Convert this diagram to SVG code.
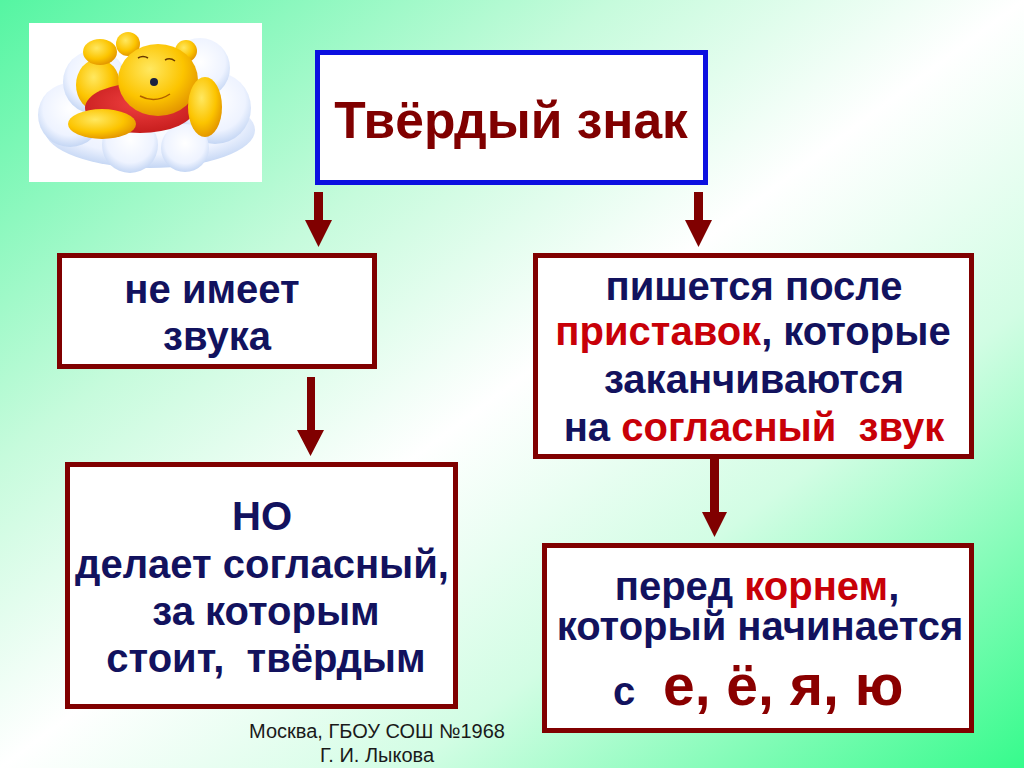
<svg xmlns="http://www.w3.org/2000/svg" width="1024" height="768" viewBox="0 0 1024 768">
<defs>
<linearGradient id="bg" x1="0" y1="0" x2="1" y2="1">
<stop offset="0" stop-color="#55f5a2"/>
<stop offset="0.3" stop-color="#c6fbdc"/>
<stop offset="0.5" stop-color="#ffffff"/>
<stop offset="0.7" stop-color="#d2fde4"/>
<stop offset="1" stop-color="#36fb8c"/>
</linearGradient>
<radialGradient id="cloud" cx="0.5" cy="0.4" r="0.6">
<stop offset="0" stop-color="#ffffff"/>
<stop offset="0.7" stop-color="#eef3ff"/>
<stop offset="1" stop-color="#c4d6f4"/>
</radialGradient>
<radialGradient id="fur" cx="0.4" cy="0.35" r="0.7">
<stop offset="0" stop-color="#ffe860"/>
<stop offset="0.6" stop-color="#fcc400"/>
<stop offset="1" stop-color="#e09000"/>
</radialGradient>
<radialGradient id="shirt" cx="0.5" cy="0.4" r="0.7">
<stop offset="0" stop-color="#f04040"/>
<stop offset="1" stop-color="#c01818"/>
</radialGradient>
</defs>
<style>
.box{fill:#ffffff;stroke:#800000;stroke-width:5}
.top{fill:#ffffff;stroke:#0c10e0;stroke-width:5}
.arrow{fill:#800000}
.t{font-family:"Liberation Sans",Arial,sans-serif;font-weight:bold;font-size:40px;fill:#12125e;text-anchor:middle}
.title{font-family:"Liberation Sans",Arial,sans-serif;font-weight:bold;font-size:51.5px;fill:#800000;text-anchor:middle}
.r{fill:#c80008}
.dr{fill:#8a0000}
.foot{font-family:"Liberation Sans",Arial,sans-serif;font-size:20px;fill:#1a1a1a;text-anchor:middle}
</style>
<rect x="0" y="0" width="1024" height="768" fill="url(#bg)"/>

<g id="picture">
<rect x="29" y="23" width="233" height="159" fill="#ffffff"/>
<g fill="url(#cloud)">
<ellipse cx="150" cy="130" rx="105" ry="38"/>
<circle cx="70" cy="115" r="32"/>
<circle cx="215" cy="108" r="36"/>
<circle cx="130" cy="145" r="28"/>
<circle cx="185" cy="148" r="24"/>
<circle cx="95" cy="82" r="32"/>
<circle cx="200" cy="68" r="30"/>
</g>
<g fill="url(#fur)">
<ellipse cx="98" cy="85" rx="22" ry="26"/>
<ellipse cx="100" cy="52" rx="17" ry="13"/>
<circle cx="128" cy="44" r="12"/>
<circle cx="186" cy="51" r="11"/>
</g>
<ellipse cx="140" cy="108" rx="55" ry="25" fill="url(#shirt)"/>
<g fill="url(#fur)">
<ellipse cx="158" cy="80" rx="40" ry="36"/>
<ellipse cx="102" cy="124" rx="34" ry="15"/>
<ellipse cx="205" cy="107" rx="17" ry="30"/>
</g>
<circle cx="154" cy="82" r="4" fill="#1a2040"/>
<path d="M140 96 Q155 104 170 94" fill="none" stroke="#b06000" stroke-width="1.5"/>
<path d="M138 58 Q143 55 148 58 M165 60 Q170 57 175 61" fill="none" stroke="#6a3a00" stroke-width="1.5"/>
</g>

<g id="connectors">
<path class="arrow" d="M314 192 H323 V220 H332 L318.5 247 L305 220 H314 Z"/>
<path class="arrow" d="M694 192 H703 V220 H712 L698.5 247 L685 220 H694 Z"/>
<path class="arrow" d="M307 377 H315 V430 H324 L310.5 456 L297 430 H307 Z"/>
<path class="arrow" d="M710 459 H719 V512 H727 L714.5 537 L702 512 H710 Z"/>
</g>

<g id="node-title">
<rect class="top" x="317.5" y="52.5" width="388" height="130"/>
<text class="title" x="511" y="138">Твёрдый знак</text>
</g>

<g id="node-no-sound">
<rect class="box" x="59.5" y="255.5" width="315" height="111"/>
<text class="t" x="212" y="303">не имеет</text>
<text class="t" x="217" y="350">звука</text>
</g>

<g id="node-but">
<rect class="box" x="67.5" y="464.5" width="388" height="242"/>
<text class="t" x="262" y="530">НО</text>
<text class="t" x="262" y="578">делает согласный,</text>
<text class="t" x="266" y="625">за которым</text>
<text class="t" x="266" y="672" xml:space="preserve">стоит,  твёрдым</text>
</g>

<g id="node-after-prefix">
<rect class="box" x="535.5" y="255.5" width="436" height="201"/>
<text class="t" x="754" y="300">пишется после</text>
<text class="t" x="753" y="345"><tspan class="r">приставок</tspan>, которые</text>
<text class="t" x="754" y="393">заканчиваются</text>
<text class="t" x="754" y="441" xml:space="preserve">на <tspan class="r">согласный  звук</tspan></text>
</g>

<g id="node-before-root">
<rect class="box" x="544.5" y="545.5" width="427" height="185"/>
<text class="t" x="757" y="600">перед <tspan class="r">корнем</tspan>,</text>
<text class="t" x="760" y="640">который начинается</text>
<text class="t" x="613" y="705" style="text-anchor:start">с<tspan class="dr" x="663" style="font-size:57px">е, ё, я, ю</tspan></text>
</g>

<g id="footer">
<text class="foot" x="377" y="738">Москва, ГБОУ СОШ №1968</text>
<text class="foot" x="377" y="762">Г. И. Лыкова</text>
</g>
</svg>
